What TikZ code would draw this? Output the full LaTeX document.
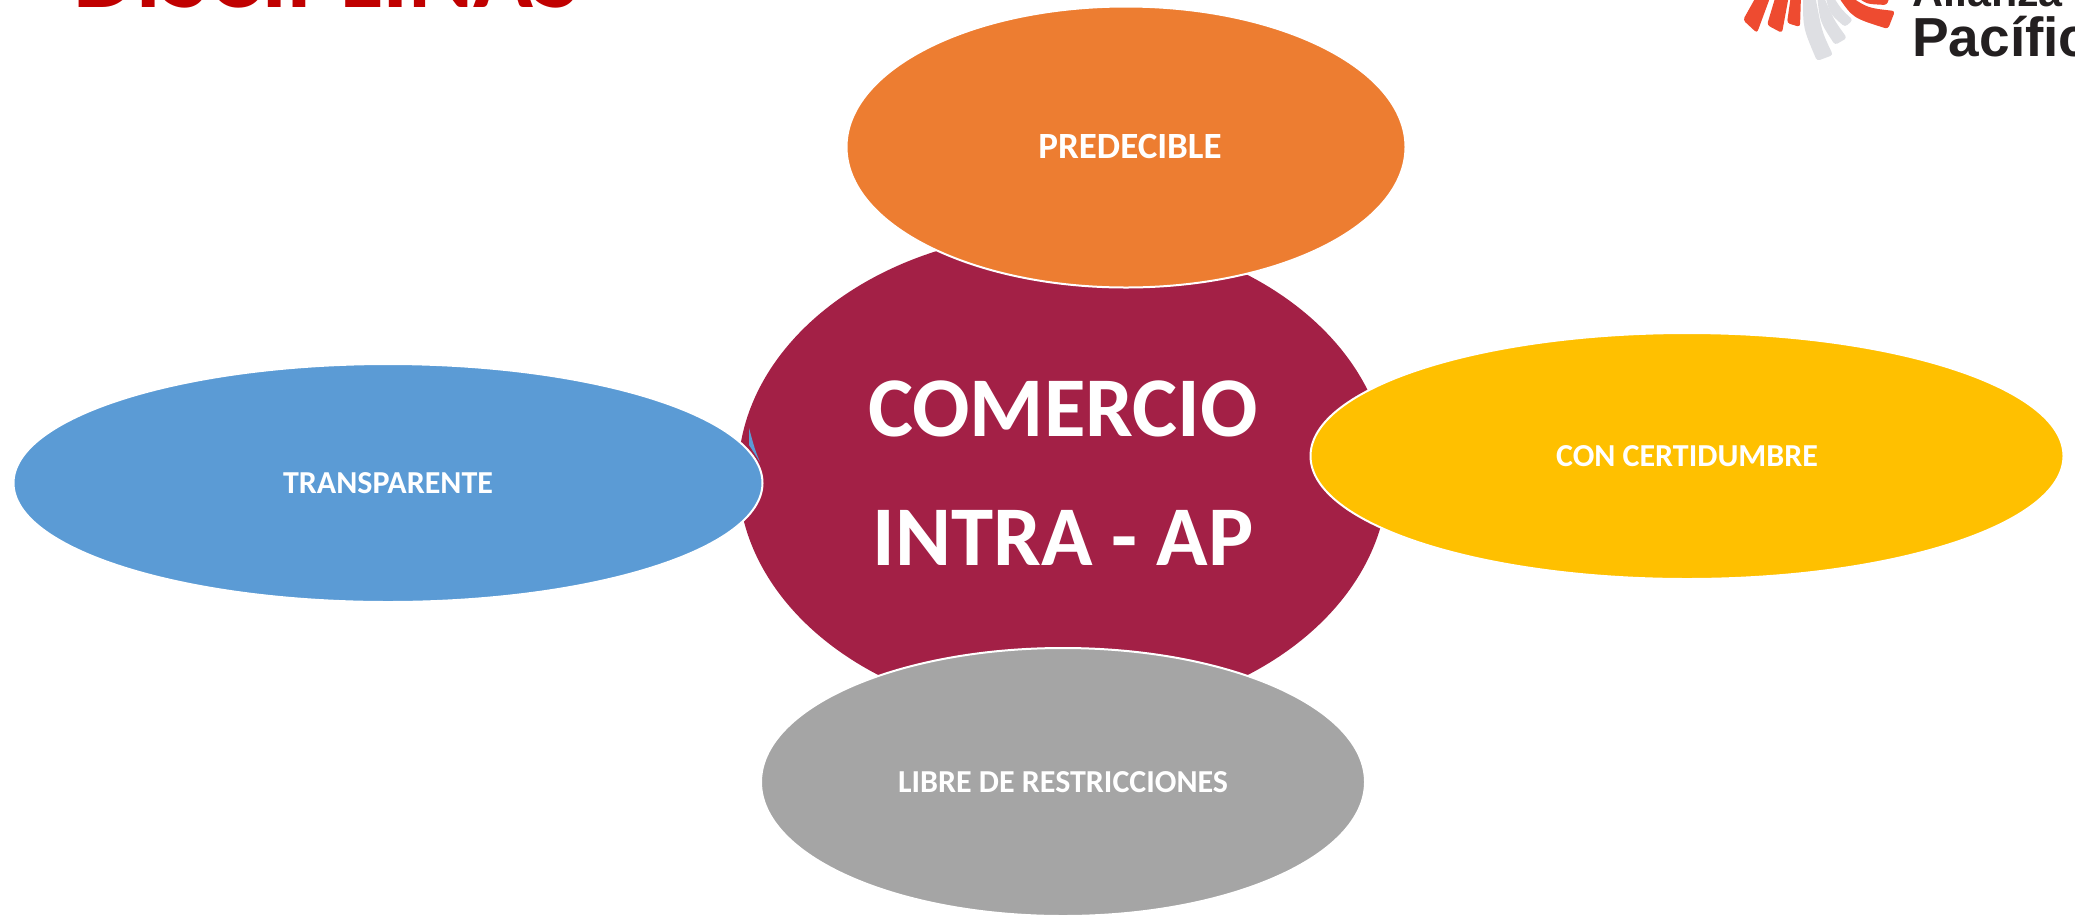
\documentclass[tikz,border=0pt]{standalone}
\usepackage{fontspec}
\setmainfont{Carlito}
\newfontfamily\logofont{Liberation Sans}
\usetikzlibrary{shapes.geometric}

\definecolor{maroonfill}{HTML}{A32046}
\definecolor{orangefill}{HTML}{ED7D31}
\definecolor{bluefill}{HTML}{5B9BD5}
\definecolor{yellowfill}{HTML}{FFC000}
\definecolor{greyfill}{HTML}{A5A5A5}
\definecolor{titlered}{HTML}{C00000}
\definecolor{logored}{HTML}{EE4B30}
\definecolor{logogrey}{HTML}{DEDFE3}
\definecolor{logoblack}{HTML}{231F20}

\tikzset{
  blob/.style={ellipse, draw=white, line width=2pt, inner sep=0pt, outer sep=0pt,
    text=white, font=\fontsize{32}{38}\selectfont\bfseries},
  petal/.style={rounded corners=3pt},
}

\begin{document}
\begin{tikzpicture}[x=1pt, y=-1pt]
  \useasboundingbox (0,0) rectangle (2075,914);
  \clip (0,0) rectangle (2075,914);

  % Title and logo, cut by the top edge
  \node[anchor=base west, inner sep=0pt, text=titlered, font=\fontsize{99}{99}\selectfont\bfseries] (title) at (73,7) {DISCIPLINAS};
  \node[anchor=base west, inner sep=0pt, text=logoblack, font=\logofont\fontsize{43}{43}\selectfont\bfseries] (alianza) at (1912,6) {Alianza del};
  \node[anchor=base west, inner sep=0pt, text=logoblack, font=\logofont\fontsize{55}{55}\selectfont\bfseries] (pacifico) at (1912,56) {Pacífico};

  % Logo petals
  \fill[petal, logored] (1757,-5) -- (1743,20) -- (1757,33) -- (1771,-5) -- cycle;
  \fill[petal, logored] (1776,-5) -- (1767,25) -- (1782,33) -- (1789,-5) -- cycle;
  \fill[petal, logored] (1791,-5) -- (1787,23) -- (1800,27) -- (1801,-5) -- cycle;
  \fill[petal, logored] (1837,-5) .. controls (1853,18) .. (1888,29) -- (1895,11) .. controls (1868,8) .. (1848,-5) -- cycle;
  \fill[petal, logored] (1855,-5) .. controls (1866,4) .. (1887,5) -- (1890,-5) -- cycle;
  \fill[petal, logogrey] (1803,-5) .. controls (1803,28) .. (1817,61) -- (1833,55) .. controls (1822,32) .. (1815,-5) -- cycle;
  \fill[petal, logogrey] (1817,-5) .. controls (1820,22) .. (1835,45) -- (1847,38) .. controls (1834,20) .. (1823,-5) -- cycle;
  \fill[petal, logogrey] (1825,-5) .. controls (1830,14) .. (1845,27) -- (1853,20) .. controls (1842,10) .. (1832,-5) -- cycle;

  % Define nodes
  \node[ellipse, fill=maroonfill, inner sep=0pt, minimum width=650pt, minimum height=486pt] (center) at (1063,475) {};
  \fill[bluefill] (749,428) -- (749,445) -- (760,462) .. controls (755,450) .. (749,428) -- cycle;
  \node[blob, fill=bluefill, minimum width=749pt, minimum height=238pt] (transparente) at (388,483) {TRANSPARENTE};
  \node[blob, fill=yellowfill, minimum width=753pt, minimum height=246pt] (certidumbre) at (1687,456) {CON CERTIDUMBRE};
  \node[blob, fill=greyfill, minimum width=604pt, minimum height=268pt] (libre) at (1063,782) {LIBRE DE RESTRICCIONES};
  \node[blob, fill=orangefill, minimum width=559pt, minimum height=281pt] (predecible) at (1126,147) {};

  % Center text
  \node[anchor=base, inner sep=0pt, text=white, font=\fontsize{85}{85}\selectfont\bfseries] (comercio) at (1063,436) {COMERCIO};
  \node[anchor=base, inner sep=0pt, text=white, font=\fontsize{85}{85}\selectfont\bfseries] (intra) at (1063,565) {INTRA - AP};
  \node[text=white, font=\fontsize{37}{44}\selectfont\bfseries] (predeciblelabel) at (1130,146) {PREDECIBLE};

\end{tikzpicture}
\end{document}
